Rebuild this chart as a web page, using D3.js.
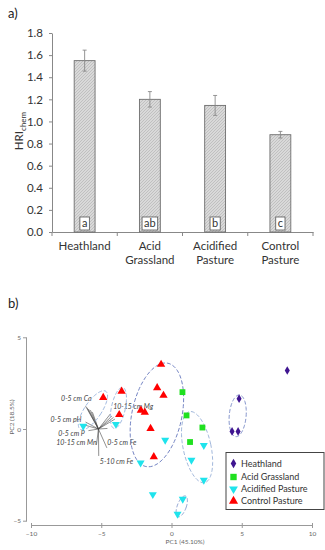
<!DOCTYPE html>
<html><head><meta charset="utf-8">
<script src="https://cdn.jsdelivr.net/npm/d3@7"></script>
<style>body{margin:0;background:#fff} svg{display:block} text{font-family:Lato, "Open Sans", sans-serif}</style>
</head><body><svg id="c" width="325" height="550"></svg>
<script>
// ---------- Panel a data ----------
const categories = ["Heathland", "Acid Grassland", "Acidified Pasture", "Control Pasture"];
const categoryLines = [["Heathland"], ["Acid", "Grassland"], ["Acidified", "Pasture"], ["Control", "Pasture"]];
const hriValues = [1.55, 1.20, 1.145, 0.88];
const hriErrors = [0.095, 0.07, 0.09, 0.03];
const sigLetters = ["a", "ab", "b", "c"];
const yTicks = [0.0, 0.2, 0.4, 0.6, 0.8, 1.0, 1.2, 1.4, 1.6, 1.8];

// ---------- Panel b data (PC1, PC2) ----------
const groups = ["Heathland", "Acid Grassland", "Acidified Pasture", "Control Pasture"];
const heathlandPts = [[8.24, 3.19], [4.81, 1.65], [4.31, -0.13], [4.74, -0.13]];
const acidGrassPts = [[0.78, 2.01], [1.07, 0.74], [2.20, 0.08], [1.32, -0.71]];
const acidifiedPts = [[-6.28, 0.16], [-3.96, 0.26], [-0.45, -0.61], [2.30, -0.89], [1.42, -1.70],
                      [-2.20, -1.85], [2.30, -2.79], [-1.33, -3.57], [0.80, -3.82], [0.43, -4.64]];
const controlPts = [[-4.86, 1.71], [-3.55, 2.05], [-3.72, 0.78], [-0.74, 3.52], [-1.02, 2.25],
                    [-0.57, 1.83], [-2.18, 1.02], [-1.90, 0.91], [-1.49, 0.02], [-1.26, -1.52]];
const pcTicks = [-10, -5, 0, 5, 10];
const pc2Ticks = [-5, 0, 5];
// ellipses: [cx, cy, semi-major, semi-minor (PC2 units), tilt deg]
const ellipses = [[-5.59, 1.02, 1.25, 0.46, 34], [-3.78, 1.15, 1.14, 0.38, 12], [-1.04, 0.77, 2.88, 1.36, 12],
                  [1.82, -0.99, 1.98, 0.76, -12], [4.71, 0.72, 1.14, 0.46, 5], [0.73, -4.22, 0.60, 0.245, 20]];
const ellipseColors = ["#9fb9e0", "#9fb9e0", "#7585c4", "#a2b8dc", "#8595cc", "#8ca2d2"];
// biplot loadings (origin and vector ends)
const loadOrigin = [-5.2, 0.0];
const loadings = [[-0.92, 1.25], [-0.82, 1.17], [-0.71, 1.09], [-0.57, 1.03], [-0.43, 0.92], [-0.92, 0.38],
                  [0.85, 0.82], [0.96, 0.71], [1.07, 0.63], [1.17, 0.54], [-1.0, 0.22], [-0.71, -0.09],
                  [0.02, -1.47], [-0.14, -0.87], [0.60, -1.03], [0.64, 0.03]];
const loadLabels = ["0-5 cm Ca", "10-15 cm Mg", "0-5 cm pH", "0-5 cm P", "10-15 cm Mn", "0-5 cm Fe", "5-10 cm Fe"];
const loadLabelPos = [[-5.69, 1.51, "end"], [-4.15, 1.11, "start"], [-6.4, 0.38, "end"], [-6.17, -0.36, "end"],
                      [-5.33, -0.87, "end"], [-4.58, -0.87, "start"], [-5.10, -1.93, "start"]];

const svg = d3.select("#c");
const defs = svg.append("defs");
const pat = defs.append("pattern").attr("id", "hatch").attr("patternUnits", "userSpaceOnUse")
  .attr("width", 3).attr("height", 3);
pat.append("rect").attr("width", 3).attr("height", 3).attr("fill", "#d9d9d9");
pat.append("path").attr("d", "M0,3 L3,0 M-1,1 L1,-1 M2,4 L4,2").attr("stroke", "#b4b4b4").attr("stroke-width", 0.7);

// ---------- Panel a ----------
svg.append("text").attr("x", 8).attr("y", 18).attr("font-size", 13).attr("fill", "#222").text("a)");
const x = d3.scaleBand().domain(categories).range([52, 313]);
const y = d3.scaleLinear().domain([0, 1.8]).range([232, 33]);
const axisCol = "#888";

const ya = svg.append("g").attr("transform", "translate(52,0)")
  .call(d3.axisLeft(y).tickValues(yTicks).tickFormat(d3.format(".1f")).tickSize(3).tickSizeOuter(0).tickPadding(6));
ya.select(".domain").attr("stroke", axisCol);
ya.selectAll(".tick line").attr("stroke", axisCol);
ya.selectAll("text").attr("font-size", 11.5).attr("fill", "#333").attr("font-family", "Lato");

const xa = svg.append("g").attr("transform", "translate(0,232)")
  .call(d3.axisBottom(x).tickValues([]).tickSizeOuter(0));
xa.select(".domain").attr("stroke", axisCol);
const bounds = categories.map(c => x(c)).concat([x.range()[1]]);
svg.append("g").selectAll("line").data(bounds).join("line")
  .attr("x1", d => d).attr("x2", d => d).attr("y1", 232).attr("y2", 236).attr("stroke", axisCol);

const bw = x.bandwidth() * 0.32;
svg.append("g").selectAll("rect").data(categories).join("rect")
  .attr("x", d => x(d) + x.bandwidth() / 2 - bw / 2)
  .attr("y", (d, i) => y(hriValues[i]))
  .attr("width", bw).attr("height", (d, i) => y(0) - y(hriValues[i]))
  .attr("fill", "url(#hatch)").attr("stroke", "#6e6e6e").attr("stroke-width", 0.9);

const eb = svg.append("g").attr("stroke", "#8a8a8a").attr("stroke-width", 0.9);
categories.forEach((c, i) => {
  const cx = x(c) + x.bandwidth() / 2;
  const t = y(hriValues[i] + hriErrors[i]), b = y(hriValues[i] - hriErrors[i]);
  eb.append("line").attr("x1", cx).attr("x2", cx).attr("y1", t).attr("y2", b);
  eb.append("line").attr("x1", cx - 2).attr("x2", cx + 2).attr("y1", t).attr("y2", t);
  eb.append("line").attr("x1", cx - 2).attr("x2", cx + 2).attr("y1", b).attr("y2", b);
});

categories.forEach((c, i) => {
  const cx = x(c) + x.bandwidth() / 2;
  const g = svg.append("g");
  const t = g.append("text").attr("x", cx).attr("y", 227).attr("text-anchor", "middle")
    .attr("font-size", 11).attr("fill", "#333").text(sigLetters[i]);
  const w = t.node().getComputedTextLength();
  g.insert("rect", "text").attr("x", cx - w / 2 - 2).attr("y", 217).attr("width", w + 4).attr("height", 13)
    .attr("fill", "#fff").attr("stroke", "#555").attr("stroke-width", 0.8);
  categoryLines[i].forEach((ln, k) => {
    svg.append("text").attr("x", cx).attr("y", 250 + k * 14).attr("text-anchor", "middle")
      .attr("font-size", 11.5).attr("fill", "#333").text(ln);
  });
});

const yt = svg.append("text").attr("transform", "translate(23,131) rotate(-90)").attr("text-anchor", "middle")
  .attr("font-size", 11.5).attr("fill", "#333");
yt.append("tspan").text("HRI");
yt.append("tspan").attr("font-size", 8).attr("dy", 3).text("chem");

// ---------- Panel b ----------
svg.append("text").attr("x", 8).attr("y", 308).attr("font-size", 13).attr("fill", "#222").text("b)");
const px = d3.scaleLinear().domain([-10, 10]).range([31, 312]);
const py = d3.scaleLinear().domain([-5, 5]).range([520.7, 337.3]);
const grey = "#999";

const pya = svg.append("g").attr("transform", "translate(26,0)")
  .call(d3.axisLeft(py).tickValues(pc2Ticks).tickSize(3).tickSizeOuter(0).tickPadding(2));
pya.select(".domain").attr("stroke", grey);
pya.selectAll(".tick line").attr("stroke", grey).attr("x1", 1);
pya.selectAll("text").attr("font-size", 6.5).attr("fill", "#666");

const pxa = svg.append("g").attr("transform", "translate(0,525)")
  .call(d3.axisBottom(px).tickValues(pcTicks).tickSize(3).tickSizeOuter(0).tickPadding(3));
pxa.select(".domain").attr("stroke", grey);
pxa.selectAll(".tick line").attr("stroke", grey).attr("y1", -2);
pxa.selectAll("text").attr("font-size", 6.5).attr("fill", "#666");

svg.append("text").attr("x", 185).attr("y", 544).attr("text-anchor", "middle")
  .attr("font-size", 6.5).attr("fill", "#666").text("PC1 (45.10%)");
svg.append("text").attr("transform", "translate(14,417) rotate(-90)").attr("text-anchor", "middle")
  .attr("font-size", 6.5).attr("fill", "#666").text("PC2 (18.5%)");

// loadings
const ox = px(loadOrigin[0]), oy = py(loadOrigin[1]);
svg.append("g").selectAll("line").data(loadings).join("line")
  .attr("x1", ox).attr("y1", oy)
  .attr("x2", d => px(loadOrigin[0] + d[0])).attr("y2", d => py(loadOrigin[1] + d[1]))
  .attr("stroke", "#444").attr("stroke-width", 0.6);
svg.append("g").selectAll("text").data(loadLabels).join("text")
  .attr("x", (d, i) => px(loadLabelPos[i][0])).attr("y", (d, i) => py(loadLabelPos[i][1]))
  .attr("text-anchor", (d, i) => loadLabelPos[i][2])
  .attr("font-size", 7).attr("font-style", "italic").attr("fill", "#444").text(d => d);

// ellipses
const kY = (py(0) - py(1)); // px per PC2 unit
const ell = d3.line().curve(d3.curveLinearClosed);
ellipses.forEach((e, i) => {
  const [cx, cy, a, b, ang] = e;
  const th = ang * Math.PI / 180;
  const pts = d3.range(0, 72).map(k => {
    const t = k / 72 * 2 * Math.PI;
    const u = b * kY * Math.cos(t), v = -a * kY * Math.sin(t);
    return [px(cx) + u * Math.cos(th) - v * Math.sin(th), py(cy) + u * Math.sin(th) + v * Math.cos(th)];
  });
  svg.append("path").attr("d", ell(pts)).attr("fill", "none").attr("stroke", ellipseColors[i])
    .attr("stroke-width", 1).attr("stroke-dasharray", "4,2");
});

// points
const styles = [
  { pts: heathlandPts, type: d3.symbolDiamond, size: 22, color: "#3f1590", rot: 0 },
  { pts: acidGrassPts, type: d3.symbolSquare, size: 34, color: "#1fe01f", rot: 0 },
  { pts: acidifiedPts, type: d3.symbolTriangle, size: 28, color: "#1fe3ec", rot: 180 },
  { pts: controlPts, type: d3.symbolTriangle, size: 30, color: "#ff0000", rot: 0 }
];
styles.forEach(s => {
  svg.append("g").selectAll("path").data(s.pts).join("path")
    .attr("d", d3.symbol().type(s.type).size(s.size)())
    .attr("transform", d => `translate(${px(d[0])},${py(d[1])}) rotate(${s.rot})`)
    .attr("fill", s.color);
});

// legend
const lg = svg.append("g");
lg.append("rect").attr("x", 226).attr("y", 452.5).attr("width", 98).attr("height", 57)
  .attr("fill", "#fff").attr("stroke", "#444").attr("stroke-width", 1);
groups.forEach((gname, i) => {
  const s = styles[i];
  const yy = [463.5, 477, 489, 501][i];
  lg.append("path").attr("d", d3.symbol().type(s.type).size(s.size * 1.2)())
    .attr("transform", `translate(233.5,${yy}) rotate(${s.rot})`).attr("fill", s.color);
  lg.append("text").attr("x", 241).attr("y", yy + 3.2).attr("font-size", 9).attr("fill", "#333").text(gname);
});
</script></body></html>
